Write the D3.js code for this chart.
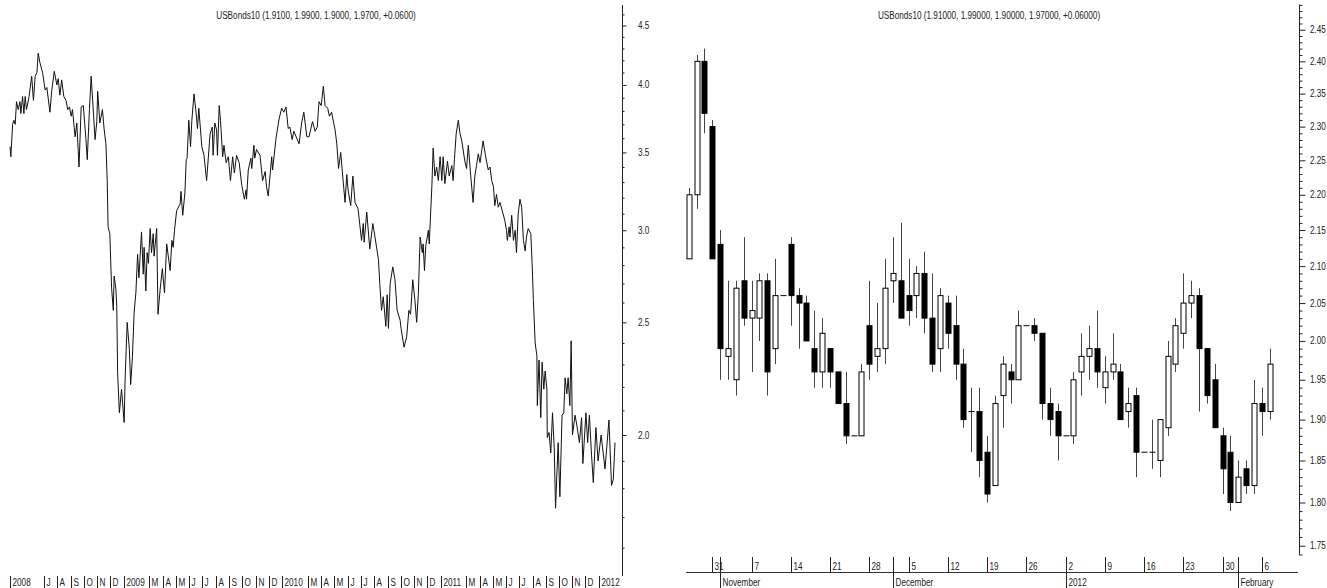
<!DOCTYPE html>
<html><head><meta charset="utf-8">
<script src="https://cdn.jsdelivr.net/npm/d3@7"></script>
<style>
html,body{margin:0;padding:0;background:#fff;}
svg{display:block;}
text{font-family:"Liberation Sans",Arial,sans-serif;font-size:10px;fill:#222;}
</style></head><body>
<svg id="c" width="1327" height="588"></svg>
<script>
// ---------- LEFT CHART DATA (daily closes) ----------
const lineStart = "2008-04-14";
const lineEnd = "2012-02-07";
// day offsets from lineStart
const lineDays = [
0,2,6,9,12,15,19,23,25,29,32,35,38,44,50,54,58,62,65,69,
75,81,85,92,96,102,108,111,115,119,124,129,133,137,141,144,150,154,159,164,
169,175,178,183,187,196,200,202,207,213,217,221,224,226,230,234,238,240,244,246,
248,252,257,263,265,270,275,278,282,286,290,294,297,303,307,309,313,316,319,323,
326,330,332,338,341,346,351,356,361,369,373,376,379,384,392,394,398,403,406,408,
412,416,419,424,428,432,435,442,447,453,461,466,468,472,476,478,482,485,490,493,
498,503,508,513,517,522,528,534,540,544,545,549,555,557,562,564,568,576,582,588,
591,595,603,605,613,620,626,631,636,641,645,650,654,666,672,677,684,689,697,703,
708,712,717,722,726,732,736,741,749,753,757,762,766,772,776,779,785,790,795,802,
810,814,816,822,829,836,841,849,852,856,860,866,869,872,876,882,887,892,899,901,
908,914,919,923,928,933,937,941,945,950,952,955,958,964,966,972,975,979,983,987,
991,995,998,1002,1008,1012,1018,1021,1024,1028,1033,1037,1041,1048,1052,1056,1061,1067,1071,1075,
1079,1083,1090,1096,1102,1106,1110,1114,1117,1121,1125,1129,1135,1140,1144,1146,1150,1152,1156,1160,
1164,1167,1171,1175,1179,1183,1187,1190,1194,1200,1203,1206,1210,1214,1215,1219,1223,1226,1230,1233,
1237,1238,1242,1246,1250,1254,1257,1263,1267,1272,1276,1279,1283,1286,1290,1293,1296,1302,1306,1312,
1317,1320,1327,1331,1335,1340,1344,1350,1355,1362,1371,1380,1386,1390,1394
];
const lineValues = [
3.54,3.47,3.70,3.73,3.70,3.87,3.81,3.87,3.78,3.91,3.78,3.91,3.81,3.91,4.07,3.88,4.07,4.10,4.26,4.18,
4.10,3.96,3.98,3.79,3.95,4.11,4.00,4.05,3.92,4.04,3.91,3.88,3.81,3.83,3.76,3.81,3.61,3.71,3.40,3.83,
3.84,3.59,3.45,3.81,4.07,3.59,3.72,3.95,3.71,3.81,3.66,3.56,3.31,3.02,2.98,2.68,2.56,2.74,2.67,2.58,
2.26,2.09,2.19,2.05,2.22,2.50,2.37,2.21,2.33,2.55,2.65,2.86,2.73,2.99,2.75,2.90,2.66,2.87,2.81,3.01,
2.87,2.98,2.85,3.01,2.54,2.67,2.78,2.65,2.92,2.77,2.94,2.90,3.00,3.12,3.16,3.24,3.09,3.23,3.45,3.46,
3.73,3.54,3.73,3.93,3.81,3.67,3.82,3.54,3.48,3.31,3.63,3.68,3.48,3.71,3.66,3.48,3.84,3.73,3.47,3.55,
3.43,3.47,3.31,3.47,3.36,3.48,3.43,3.28,3.19,3.25,3.19,3.38,3.46,3.39,3.55,3.46,3.52,3.48,3.31,3.37,
3.27,3.21,3.47,3.38,3.60,3.74,3.82,3.79,3.83,3.67,3.68,3.59,3.65,3.56,3.71,3.79,3.61,3.61,3.72,3.65,
3.68,3.87,3.84,3.99,3.84,3.82,3.76,3.79,3.66,3.56,3.39,3.50,3.36,3.17,3.35,3.25,3.15,3.34,3.17,3.13,
2.94,3.04,2.93,3.11,2.89,3.04,2.96,2.83,2.70,2.56,2.63,2.48,2.64,2.47,2.70,2.79,2.72,2.56,2.51,2.47,
2.38,2.43,2.56,2.54,2.72,2.61,2.50,2.65,2.96,2.87,2.92,2.77,2.91,3.00,2.92,3.27,3.53,3.34,3.40,3.31,
3.47,3.31,3.47,3.29,3.44,3.34,3.41,3.31,3.45,3.63,3.73,3.63,3.58,3.44,3.39,3.55,3.36,3.17,3.34,3.41,
3.49,3.43,3.58,3.47,3.38,3.40,3.31,3.27,3.15,3.22,3.14,3.17,3.11,3.06,3.00,2.94,3.02,2.96,3.09,2.94,
3.00,2.87,3.10,3.19,3.14,2.94,2.88,2.96,3.01,2.98,2.81,2.61,2.40,2.34,2.12,2.32,2.07,2.31,2.19,2.27,
2.19,1.99,2.01,1.93,2.09,1.95,1.73,1.97,1.77,2.08,2.09,2.24,2.17,2.24,2.12,2.41,2.00,2.08,2.04,1.97,
2.07,1.89,2.09,1.97,2.08,1.92,1.82,2.03,1.90,2.00,1.87,2.06,1.81,1.83,1.97
];
const leftMajorTicks = [2.0, 2.5, 3.0, 3.5, 4.0, 4.5];
const leftMinorTicks = [1.6,1.7,1.8,1.9,2.1,2.2,2.3,2.4,2.6,2.7,2.8,2.9,3.1,3.2,3.3,3.4,3.6,3.7,3.8,3.9,4.1,4.2,4.3,4.4,4.6];
const leftTimeTicks = [
["2008-04-14","2008"],["2008-07-01","J"],["2008-08-01","A"],["2008-09-01","S"],["2008-10-01","O"],["2008-11-01","N"],["2008-12-01","D"],
["2009-01-01","2009"],["2009-03-01","M"],["2009-04-01","A"],["2009-05-01","M"],["2009-06-01","J"],["2009-07-01","J"],["2009-08-01","A"],["2009-09-01","S"],["2009-10-01","O"],["2009-11-01","N"],["2009-12-01","D"],
["2010-01-01","2010"],["2010-03-01","M"],["2010-04-01","A"],["2010-05-01","M"],["2010-06-01","J"],["2010-07-01","J"],["2010-08-01","A"],["2010-09-01","S"],["2010-10-01","O"],["2010-11-01","N"],["2010-12-01","D"],
["2011-01-01","2011"],["2011-03-01","M"],["2011-04-01","A"],["2011-05-01","M"],["2011-06-01","J"],["2011-07-01","J"],["2011-08-01","A"],["2011-09-01","S"],["2011-10-01","O"],["2011-11-01","N"],["2011-12-01","D"],
["2012-01-01","2012"]
];

// ---------- RIGHT CHART DATA (daily OHLC) ----------
const candleDates = [
"2011-10-26","2011-10-27","2011-10-28","2011-10-31",
"2011-11-01","2011-11-02","2011-11-03","2011-11-04","2011-11-07","2011-11-08","2011-11-09","2011-11-10","2011-11-11","2011-11-14","2011-11-15","2011-11-16","2011-11-17","2011-11-18","2011-11-21","2011-11-22","2011-11-23","2011-11-24","2011-11-25","2011-11-28","2011-11-29","2011-11-30",
"2011-12-01","2011-12-02","2011-12-05","2011-12-06","2011-12-07","2011-12-08","2011-12-09","2011-12-12","2011-12-13","2011-12-14","2011-12-15","2011-12-16","2011-12-19","2011-12-20","2011-12-21","2011-12-22","2011-12-23","2011-12-26","2011-12-27","2011-12-28","2011-12-29","2011-12-30",
"2012-01-02","2012-01-03","2012-01-04","2012-01-05","2012-01-06","2012-01-09","2012-01-10","2012-01-11","2012-01-12","2012-01-13","2012-01-16","2012-01-17","2012-01-18","2012-01-19","2012-01-20","2012-01-23","2012-01-24","2012-01-25","2012-01-26","2012-01-27","2012-01-30","2012-01-31",
"2012-02-01","2012-02-02","2012-02-03","2012-02-06","2012-02-07"
];
const candleOpen = [
2.11,2.20,2.40,2.30,
2.13,1.98,1.95,2.08,2.03,2.03,2.08,1.99,2.06,2.13,2.06,2.05,1.99,1.96,1.99,1.96,1.92,1.88,1.88,2.02,1.98,1.99,
2.08,2.08,2.06,2.06,2.09,2.03,1.99,2.05,2.02,1.97,1.91,1.91,1.86,1.82,1.93,1.96,1.95,2.02,2.02,2.01,1.92,1.91,
1.88,1.88,1.96,1.98,1.99,1.94,1.96,1.96,1.91,1.93,1.86,1.86,1.85,1.89,1.97,2.01,2.05,2.06,1.99,1.95,1.88,1.86,
1.80,1.84,1.82,1.92,1.91
];
const candleHigh = [
2.21,2.41,2.42,2.31,
2.15,2.08,2.08,2.14,2.08,2.09,2.09,2.11,2.06,2.14,2.07,2.06,2.04,2.03,1.99,1.96,1.96,1.88,1.97,2.08,2.05,2.11,
2.14,2.16,2.11,2.10,2.12,2.09,2.07,2.06,2.06,1.99,1.94,1.94,1.88,1.93,1.98,1.97,2.04,2.02,2.03,2.01,1.94,1.92,
1.88,1.96,2.01,2.02,2.04,1.98,2.01,1.97,1.94,1.94,1.86,1.90,1.90,2.00,2.03,2.09,2.08,2.07,1.99,1.97,1.89,1.88,
1.85,1.85,1.95,1.94,1.99
];
const candleLow = [
2.11,2.18,2.29,2.11,
1.95,1.95,1.93,2.02,1.96,2.00,1.93,1.97,2.06,2.02,1.99,2.00,1.94,1.94,1.94,1.92,1.87,1.88,1.88,1.95,1.96,1.97,
2.05,2.03,2.02,2.03,2.01,1.96,1.96,1.99,1.95,1.89,1.86,1.83,1.80,1.82,1.89,1.92,1.95,2.02,2.00,1.90,1.88,1.85,
1.88,1.87,1.93,1.95,1.94,1.92,1.95,1.90,1.89,1.83,1.86,1.84,1.83,1.88,1.96,1.99,2.03,1.91,1.92,1.89,1.81,1.79,
1.80,1.81,1.81,1.88,1.90
];
const candleClose = [
2.20,2.40,2.32,2.11,
1.99,1.99,2.07,2.03,2.04,2.08,1.96,2.06,2.06,2.06,2.05,2.00,1.96,2.01,1.96,1.92,1.88,1.88,1.96,1.97,1.99,2.07,
2.09,2.03,2.04,2.09,2.03,1.97,2.06,2.01,1.97,1.90,1.91,1.85,1.81,1.92,1.97,1.95,2.02,2.02,2.01,1.92,1.90,1.88,
1.88,1.95,1.98,1.99,1.96,1.96,1.97,1.90,1.92,1.86,1.86,1.86,1.90,1.98,2.02,2.05,2.06,1.99,1.93,1.89,1.84,1.80,
1.83,1.82,1.92,1.91,1.97
];
const rightMajorTicks = [1.75,1.80,1.85,1.90,1.95,2.00,2.05,2.10,2.15,2.20,2.25,2.30,2.35,2.40,2.45];
const weekTicks = [["2011-10-31","31"],["2011-11-07","7"],["2011-11-14","14"],["2011-11-21","21"],["2011-11-28","28"],["2011-12-05","5"],["2011-12-12","12"],["2011-12-19","19"],["2011-12-26","26"],["2012-01-02","2"],["2012-01-09","9"],["2012-01-16","16"],["2012-01-23","23"],["2012-01-30","30"],["2012-02-06","6"]];
const monthTicks = [["2011-11-01","November"],["2011-12-01","December"],["2012-01-02","2012"],["2012-02-01","February"]];

// ---------- DRAW ----------
const parse = d3.timeParse("%Y-%m-%d");
const svg = d3.select("#c");
const ink = "#222";
const NARROW = 0.82;
function txt(g, x, y, s, anchor) {
  return g.append("text").attr("transform", `translate(${x},${y}) scale(${NARROW},1)`)
    .attr("text-anchor", anchor || "start").text(s);
}

// LEFT
const xL = d3.scaleTime().domain([parse(lineStart), parse(lineEnd)]).range([10, 615]);
const yL = d3.scaleLog().domain([2, 4.5]).range([435, 25.5]);
const lineDates = lineDays.map(d => d3.timeDay.offset(parse(lineStart), d));
const f4 = d3.format(".4f"), f5 = d3.format(".5f");
const n = candleClose.length;
const lastChg = candleClose[n - 1] - candleClose[n - 2];
const lastVals = [candleOpen[n - 1], candleHigh[n - 1], candleLow[n - 1], candleClose[n - 1]];
txt(svg, 316, 19, `USBonds10 (${lastVals.map(f4).join(", ")}, +${f4(lastChg)})`, "middle");

svg.append("path").datum(lineValues)
  .attr("d", d3.line().x((v, i) => xL(lineDates[i])).y(v => yL(v)))
  .attr("fill", "none").attr("stroke", "#111").attr("stroke-width", 1).attr("stroke-linejoin", "round");

const axL = svg.append("g").attr("transform", "translate(622.5,0)").style("color", ink);
axL.append("line").attr("x1", 0).attr("x2", 0).attr("y1", 5).attr("y2", 576).attr("stroke", ink);
const gMinL = axL.append("g").call(d3.axisRight(yL).tickValues(leftMinorTicks).tickSize(2).tickFormat(""));
const gMajL = axL.append("g").call(d3.axisRight(yL).tickValues(leftMajorTicks).tickSize(4).tickFormat(""));
[gMinL, gMajL].forEach(g => { g.select(".domain").remove(); g.selectAll("text").remove(); });
leftMajorTicks.forEach(v => txt(svg, 638, yL(v) + 3.5, d3.format(".1f")(v)));

const tl = svg.append("g");
leftTimeTicks.forEach(([d, lab]) => {
  const x = Math.round(xL(parse(d))) + 0.5;
  tl.append("line").attr("x1", x).attr("x2", x).attr("y1", 576).attr("y2", 588).attr("stroke", ink);
  txt(tl, x + 2, 586, lab);
});

// RIGHT
const xR = d3.scalePoint().domain(candleDates).range([688.75, 1269.6]);
const yR = d3.scaleLog().domain([1.74, 2.49]).range([554.5, 4.9]);
txt(svg, 989, 19, `USBonds10 (${lastVals.map(f5).join(", ")}, +${f5(lastChg)})`, "middle");

const cg = svg.append("g");
candleDates.forEach((d, i) => {
  const cx = Math.round(xR(d)) + 0.5;
  const o = candleOpen[i], c = candleClose[i], h = candleHigh[i], l = candleLow[i];
  cg.append("line").attr("x1", cx).attr("x2", cx).attr("y1", yR(h)).attr("y2", yR(l)).attr("stroke", "#444").attr("stroke-width", 1);
  const top = yR(Math.max(o, c)), bot = yR(Math.min(o, c));
  if (Math.abs(bot - top) < 1) {
    cg.append("line").attr("x1", cx - 3).attr("x2", cx + 3).attr("y1", top).attr("y2", top).attr("stroke", "#000");
  } else {
    cg.append("rect").attr("x", cx - 2.5).attr("y", top).attr("width", 5).attr("height", bot - top)
      .attr("fill", c < o ? "#000" : "#fff").attr("stroke", "#000").attr("stroke-width", 1);
  }
});

const axR = svg.append("g").attr("transform", "translate(1299.5,0)").style("color", ink);
axR.append("line").attr("x1", 0).attr("x2", 0).attr("y1", 4.5).attr("y2", 555).attr("stroke", ink);
const minorR = d3.range(174, 250).map(v => v / 100).filter(v => !rightMajorTicks.some(m => Math.abs(m - v) < 1e-6));
const gMinR = axR.append("g").call(d3.axisRight(yR).tickValues(minorR).tickSize(3).tickFormat(""));
const gMajR = axR.append("g").call(d3.axisRight(yR).tickValues(rightMajorTicks).tickSize(6).tickFormat(""));
[gMinR, gMajR].forEach(g => { g.select(".domain").remove(); g.selectAll("text").remove(); });
rightMajorTicks.forEach(v => txt(svg, 1310, yR(v) + 3.5, d3.format(".2f")(v)));

const bx = svg.append("g");
bx.append("line").attr("x1", 686).attr("x2", 1298).attr("y1", 572.5).attr("y2", 572.5).attr("stroke", "#333");
weekTicks.forEach(([d, lab]) => {
  const x = Math.round(xR(d)) + 0.5;
  bx.append("line").attr("x1", x).attr("x2", x).attr("y1", 557).attr("y2", 573).attr("stroke", ink);
  txt(bx, x + 2, 570, lab);
});
monthTicks.forEach(([d, lab]) => {
  const x = Math.round(xR(d)) + 0.5;
  bx.append("line").attr("x1", x).attr("x2", x).attr("y1", 557).attr("y2", 588).attr("stroke", ink);
  txt(bx, x + 2, 586, lab);
});
</script>
</body></html>
